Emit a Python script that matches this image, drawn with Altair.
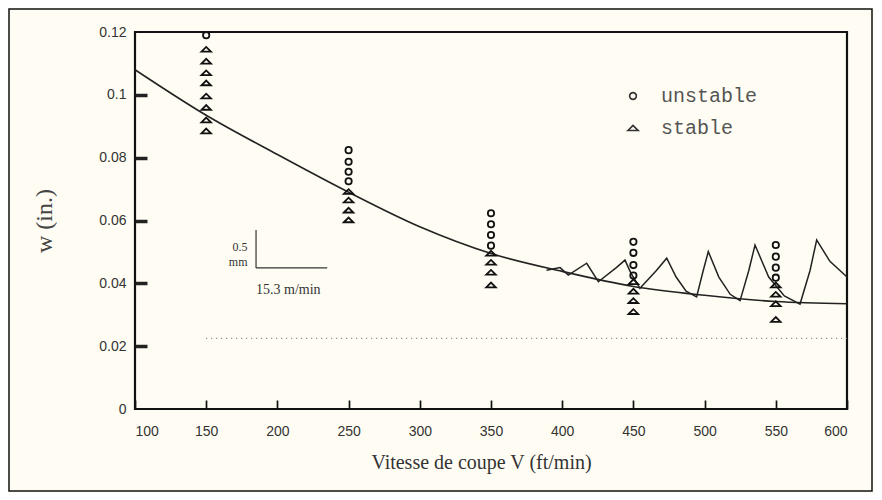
import altair as alt
import pandas as pd

# Smooth stability boundary
curve_v = [100, 150, 200, 250, 300, 350, 400, 450, 500, 550, 600]
curve_w = [0.108, 0.0935, 0.081, 0.069, 0.058, 0.0495, 0.0438, 0.039, 0.0362, 0.0342, 0.0335]

# Lobed (sawtooth) boundary
lobe_v = [389, 398.5, 404.3, 417.2, 425.4, 438, 444.1, 448, 454.6,
          466, 473.4, 480, 487, 494.4,
          499, 502.6, 510, 518, 524.9,
          531, 535.4, 545, 556, 567,
          574, 578.7, 588, 600]
lobe_w = [0.0442, 0.0450, 0.0426, 0.0464, 0.0405, 0.0450, 0.0474, 0.0435, 0.0384,
          0.0440, 0.0480, 0.0420, 0.0375, 0.0357,
          0.0440, 0.0501, 0.0420, 0.0365, 0.0345,
          0.0440, 0.0522, 0.0420, 0.0360, 0.0334,
          0.0440, 0.0538, 0.0470, 0.0420]

# Experimental points
pt_v = ([150] * 9 + [250] * 8 + [350] * 8 + [450] * 8 + [550] * 8)
pt_w = [0.119, 0.0885, 0.092, 0.096, 0.0996, 0.1038, 0.107, 0.1107, 0.1145,
        0.0824, 0.0787, 0.0755, 0.0725, 0.0692, 0.0665, 0.0633, 0.0602,
        0.0623, 0.0588, 0.0554, 0.052, 0.0496, 0.0467, 0.0435, 0.0395,
        0.0532, 0.0497, 0.0458, 0.0425, 0.0405, 0.0375, 0.0345, 0.031,
        0.0522, 0.0485, 0.045, 0.0418, 0.0395, 0.0365, 0.0335, 0.0285]
pt_state = (["unstable"] + ["stable"] * 8 +
            ["unstable"] * 4 + ["stable"] * 4 +
            ["unstable"] * 4 + ["stable"] * 4 +
            ["unstable"] * 4 + ["stable"] * 4 +
            ["unstable"] * 4 + ["stable"] * 4)

dotted_w = [0.0225]
dotted_v = [150, 600]

x_labels = [100, 150, 200, 250, 300, 350, 400, 450, 500, 550, 600]
y_ticks = [0.02, 0.04, 0.06, 0.08, 0.1]
y_labels = [0, 0.02, 0.04, 0.06, 0.08, 0.1, 0.12]

# scale bar annotation
bar_v = [185, 235]
bar_w = [0.0449, 0.057]

W, H = 712, 377
X_TICK_LEN = 9
INK = "#222222"
SERIF = "Liberation Serif"
SANS = "Liberation Sans"

xs = alt.Scale(domain=[100, 600], nice=False)
ys = alt.Scale(domain=[0, 0.12], nice=False)

curve_df = pd.DataFrame({"v": curve_v, "w": curve_w})
lobe_df = pd.DataFrame({"v": lobe_v, "w": lobe_w})
pts_df = pd.DataFrame({"v": pt_v, "w": pt_w, "state": pt_state})

# main axes; x grid dashed (drawn top-down) so only a short stub shows just above the axis
curve = alt.Chart(curve_df).mark_line(color=INK, strokeWidth=1.6, interpolate="monotone").encode(
    x=alt.X("v:Q", scale=xs, axis=alt.Axis(
        values=x_labels, ticks=False, domain=False, grid=True,
        gridDash=[0, H - X_TICK_LEN, X_TICK_LEN, 2000],
        gridColor="#111", gridWidth=1.7, gridOpacity=1,
        labelFont=SANS, labelFontSize=14,
        labelColor="#333", labelPadding=15, title="Vitesse de coupe V (ft/min)", titleFont=SERIF,
        titleFontSize=20, titleFontWeight="normal", titleColor="#333", titlePadding=14,
        titleX=346, titleAlign="center")),
    y=alt.Y("w:Q", scale=ys, axis=alt.Axis(
        values=y_labels, labelExpr="'' + datum.value", ticks=False, domain=False, grid=False,
        labelFont=SANS, labelFontSize=14, labelColor="#333", labelPadding=9, title="w (in.)",
        titleFont=SERIF, titleFontSize=24, titleFontWeight="normal", titleColor="#444",
        titlePadding=42)),
)

# inward y ticks via an axis on the opposite side, offset into the plot
dotted = alt.Chart(pd.DataFrame({"v": dotted_v, "w": [dotted_w[0]] * 2})).mark_line(
    color="#777", strokeDash=[1, 4], strokeWidth=1.2).encode(
    x=alt.X("v:Q", scale=xs, axis=None),
    y=alt.Y("w:Q", scale=ys, axis=alt.Axis(
        orient="right", offset=-W, values=y_ticks, labels=False, domain=False, grid=False,
        tickSize=12, tickWidth=3.5, tickColor=INK, title=None)),
)

lobes = alt.Chart(lobe_df).mark_line(color=INK, strokeWidth=1.5).encode(
    x=alt.X("v:Q", scale=xs, axis=None),
    y=alt.Y("w:Q", scale=ys, axis=None),
)

tri_path = "M -1.5 0.75 L 0 -0.75 L 1.5 0.75 Z"
points = alt.Chart(pts_df).mark_point(filled=False, strokeWidth=1.8, color="#111", size=40,
                                      opacity=1, clip=True).encode(
    x=alt.X("v:Q", scale=xs, axis=None),
    y=alt.Y("w:Q", scale=ys, axis=None),
    shape=alt.Shape("state:N", scale=alt.Scale(domain=["unstable", "stable"],
                                               range=["circle", tri_path]),
                    legend=alt.Legend(orient="none", legendX=488, legendY=54, title=None,
                                      labelFont="Liberation Mono", labelFontSize=20,
                                      labelColor="#555", symbolStrokeColor="#333",
                                      symbolStrokeWidth=1.7, symbolSize=45, rowPadding=12,
                                      labelOffset=18, symbolFillColor="transparent")),
)

bar_df = pd.DataFrame({"v": [bar_v[0]], "v2": [bar_v[1]], "w": [bar_w[0]], "w2": [bar_w[1]]})
vbar = alt.Chart(bar_df).mark_rule(color="#333", strokeWidth=1.2).encode(
    x=alt.X("v:Q", scale=xs, axis=None), y=alt.Y("w:Q", scale=ys, axis=None), y2="w2:Q")
hbar = alt.Chart(bar_df).mark_rule(color="#333", strokeWidth=1.2).encode(
    x=alt.X("v:Q", scale=xs, axis=None), x2="v2:Q", y=alt.Y("w:Q", scale=ys, axis=None))

ann_df = pd.DataFrame({
    "v": [179, 179, 185],
    "w": [0.0516, 0.0468, 0.0379],
    "t": ["0.5", "mm", "15.3 m/min"],
    "a": ["right", "right", "left"],
})
ann_r = alt.Chart(ann_df[ann_df.a == "right"]).mark_text(
    font=SERIF, fontSize=12, color="#333", align="right", baseline="middle").encode(
    x=alt.X("v:Q", scale=xs, axis=None), y=alt.Y("w:Q", scale=ys, axis=None), text="t:N")
ann_l = alt.Chart(ann_df[ann_df.a == "left"]).mark_text(
    font=SERIF, fontSize=14, color="#333", align="left", baseline="middle").encode(
    x=alt.X("v:Q", scale=xs, axis=None), y=alt.Y("w:Q", scale=ys, axis=None), text="t:N")

# outer frame around the whole figure
frame = alt.Chart(pd.DataFrame({"k": [0]})).mark_rect(
    fill="transparent", stroke="#111", strokeWidth=1.5, clip=False).encode(
    x=alt.value(-126), x2=alt.value(W + 25), y=alt.value(-23), y2=alt.value(H + 82))

chart = alt.layer(curve, dotted, lobes, vbar, hbar, ann_r, ann_l, points, frame).resolve_axis(
    x="independent", y="independent"
).properties(
    width=W, height=H,
    autosize=alt.AutoSizeParams(type="none"),
    padding={"left": 127, "top": 24, "right": 27, "bottom": 84},
    background="#fffdf3",
).configure_view(
    stroke="#111", strokeWidth=2.2,
)

chart.save("out.html", embed_options={"renderer": "svg", "actions": False})
